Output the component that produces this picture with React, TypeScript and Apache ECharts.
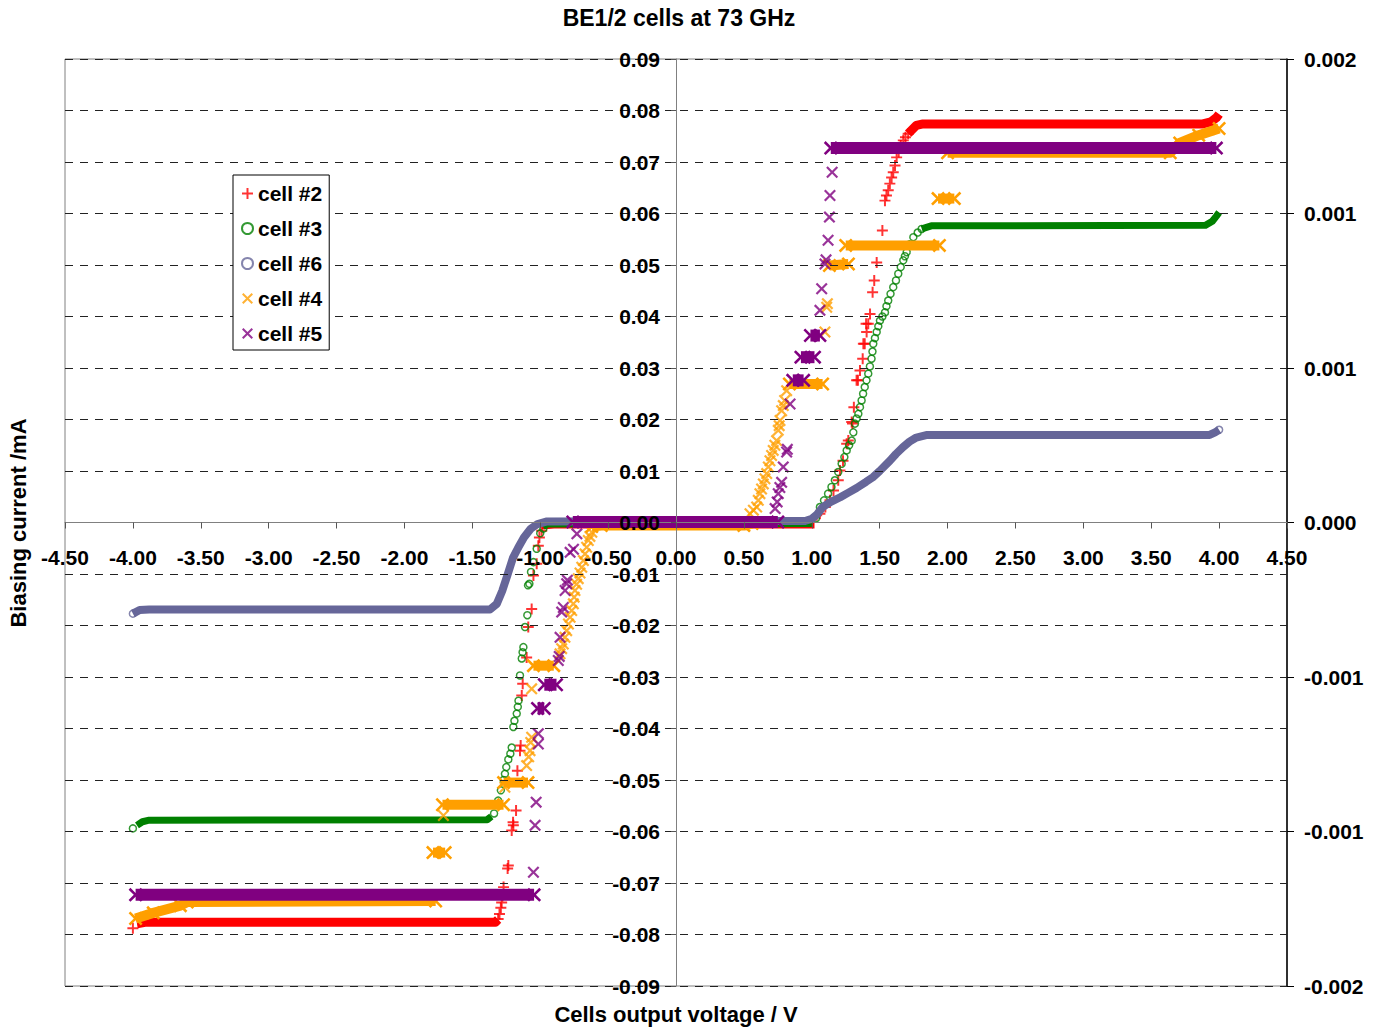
import React, { useEffect, useRef } from 'react';
import * as echarts from 'echarts';

const TITLE = 'BE1/2 cells at 73 GHz';
const X_NAME = 'Cells output voltage / V';
const Y_NAME = 'Biasing current /mA';
const NAMES = ['cell #2', 'cell #3', 'cell #6', 'cell #4', 'cell #5'];
const COLORS = ['#FF0000', '#008000', '#666699', '#FF9F00', '#800080'];
const RIGHT_TICKS = ['-0.002', '-0.001', '-0.001', '0.000', '0.001', '0.001', '0.002'];

// dense runs of markers (appear as solid bands)
const cell2Bands = [
  [[-3.97, -0.0779], [-3.9, -0.0776], [-1.33, -0.0776], [-1.31, -0.0771]],
  [[-0.99, -0.0005], [-0.9, -0.0003], [1.02, -0.0003]],
  [[1.71, 0.0755], [1.77, 0.0771], [1.82, 0.0774], [3.88, 0.0774], [3.94, 0.0778], [3.98, 0.0786], [4.0, 0.0793]],
];
const cell2Points = [
  [-4.0, -0.0788], [-1.31, -0.077], [-1.3, -0.076], [-1.29, -0.0748], [-1.284, -0.0738], [-1.278, -0.0725],
  [-1.27, -0.0708], [-1.24, -0.0672], [-1.235, -0.0666], [-1.21, -0.0598], [-1.198, -0.0588], [-1.2, -0.0582],
  [-1.178, -0.0559], [-1.168, -0.0482], [-1.149, -0.0443], [-1.144, -0.0433], [-1.136, -0.0336], [-1.129, -0.0313],
  [-1.1, -0.0262], [-1.088, -0.0203], [-1.063, -0.0168], [-1.05, -0.0103], [-1.026, -0.008], [-1.014, -0.0045],
  [-1.006, -0.0029], [-0.989, -0.0016],
  [1.036, 0.0014], [1.06, 0.0017], [1.1, 0.003], [1.134, 0.0043], [1.16, 0.0062], [1.195, 0.0082], [1.208, 0.0101],
  [1.23, 0.012], [1.257, 0.0153], [1.269, 0.0159], [1.294, 0.0195], [1.3, 0.0192], [1.31, 0.0224], [1.33, 0.0276],
  [1.34, 0.0276], [1.355, 0.0295], [1.375, 0.0318], [1.38, 0.0347], [1.39, 0.0347], [1.4, 0.0386], [1.404, 0.037],
  [1.416, 0.0386], [1.429, 0.0405], [1.448, 0.0447], [1.46, 0.047], [1.478, 0.0505], [1.52, 0.0567], [1.539, 0.0625],
  [1.55, 0.0635], [1.563, 0.0645], [1.575, 0.0658], [1.588, 0.067], [1.6, 0.068], [1.613, 0.0693], [1.625, 0.0709],
  [1.64, 0.072], [1.655, 0.0732], [1.674, 0.0742], [1.69, 0.0748], [1.71, 0.0755],
];

const cell3Bands = [
  [[-3.97, -0.0588], [-3.93, -0.0581], [-3.88, -0.0578], [-1.39, -0.0577], [-1.36, -0.0571]],
  [[-0.98, -0.0008], [-0.95, -0.0003], [1.0, -0.0002]],
  [[1.81, 0.057], [1.88, 0.0576], [3.9, 0.0577], [3.95, 0.0585], [3.98, 0.0595], [4.0, 0.0602]],
];
const cell3Points = [
  [-4.0, -0.0594], [-1.34, -0.0565], [-1.31, -0.054], [-1.29, -0.052], [-1.27, -0.05], [-1.26, -0.0488],
  [-1.25, -0.0475], [-1.235, -0.046], [-1.22, -0.0449], [-1.21, -0.0437], [-1.198, -0.0397], [-1.19, -0.0385],
  [-1.173, -0.0371], [-1.165, -0.0358], [-1.16, -0.0346], [-1.149, -0.0297], [-1.136, -0.0264], [-1.13, -0.0252],
  [-1.124, -0.0242], [-1.112, -0.0203], [-1.095, -0.018], [-1.09, -0.0122], [-1.08, -0.0119], [-1.068, -0.0096],
  [-1.05, -0.0077], [-1.026, -0.0051], [-1.0, -0.0021], [-0.977, -0.0012],
  [1.03, 0.0008], [1.06, 0.003], [1.09, 0.0043], [1.12, 0.0056], [1.145, 0.0069], [1.17, 0.0082], [1.195, 0.0098],
  [1.22, 0.0114], [1.24, 0.0127], [1.257, 0.014], [1.275, 0.015], [1.294, 0.0159], [1.306, 0.0175], [1.318, 0.0192],
  [1.33, 0.0202], [1.343, 0.0211], [1.355, 0.0224], [1.367, 0.0237], [1.378, 0.025], [1.39, 0.0263], [1.403, 0.0276],
  [1.416, 0.0289], [1.428, 0.0303], [1.44, 0.0318], [1.447, 0.0332], [1.453, 0.0347], [1.465, 0.0358], [1.478, 0.037],
  [1.49, 0.0381], [1.502, 0.0392], [1.52, 0.04], [1.539, 0.0408], [1.55, 0.042], [1.563, 0.0431], [1.58, 0.0444],
  [1.6, 0.0457], [1.62, 0.047], [1.637, 0.0483], [1.655, 0.0496], [1.674, 0.0509], [1.686, 0.0517], [1.699, 0.0525],
  [1.72, 0.054], [1.748, 0.0554], [1.78, 0.0563], [1.809, 0.057],
];

const cell6Bands = [
  [[-4.0, -0.0177], [-3.95, -0.017], [-3.88, -0.0169], [-1.37, -0.0169], [-1.32, -0.0158], [-1.28, -0.0133],
   [-1.24, -0.0101], [-1.2, -0.0068], [-1.16, -0.0048], [-1.12, -0.0029], [-1.07, -0.0012], [-1.02, -0.0003],
   [-0.95, 0.0002], [0.95, 0.0003], [1.0, 0.0007], [1.04, 0.0016], [1.08, 0.003], [1.14, 0.004], [1.21, 0.0049],
   [1.27, 0.0058], [1.33, 0.0067], [1.4, 0.0079], [1.45, 0.0088], [1.5, 0.01], [1.576, 0.012], [1.62, 0.0133],
   [1.67, 0.0146], [1.72, 0.0157], [1.77, 0.0165], [1.85, 0.017], [3.93, 0.017], [3.97, 0.0175], [4.0, 0.018]],
];
const cell6Points = [[-4.0, -0.0177], [4.0, 0.018]];

const cell4Bands = [
  [[-3.98, -0.0769], [-3.85, -0.0758], [-3.65, -0.0744], [-3.6, -0.0737], [-1.77, -0.0735]],
  [[-1.79, -0.0641], [-1.7, -0.0641]],
  [[-1.72, -0.0548], [-1.27, -0.0548]],
  [[-1.27, -0.0505], [-1.09, -0.0505]],
  [[-1.05, -0.0278], [-0.9, -0.0278]],
  [[-0.62, -0.0008], [-0.55, -0.0006], [0.5, -0.0006], [0.56, -0.0002]],
  [[0.835, 0.0269], [1.08, 0.0269]],
  [[1.13, 0.0499], [1.27, 0.0502]],
  [[1.25, 0.0538], [1.94, 0.0538]],
  [[1.93, 0.0629], [2.05, 0.0629]],
  [[2.0, 0.0718], [3.64, 0.0718], [3.71, 0.0737], [3.85, 0.0752], [4.0, 0.0765]],
];
const cell4Points = [
  [-1.713, -0.0569], [-1.26, -0.0514], [-1.1, -0.0472], [-1.085, -0.0455], [-1.075, -0.0443], [-1.07, -0.0427],
  [-1.063, -0.0417], [-1.063, -0.0323],
  [-0.854, -0.0255], [-0.842, -0.0245], [-0.83, -0.0236], [-0.818, -0.0223], [-0.805, -0.021], [-0.792, -0.0197],
  [-0.78, -0.0184], [-0.768, -0.0171], [-0.756, -0.0158], [-0.75, -0.0145], [-0.744, -0.0132], [-0.732, -0.012],
  [-0.72, -0.0109], [-0.707, -0.0098], [-0.694, -0.0087], [-0.682, -0.0074], [-0.67, -0.0061], [-0.658, -0.0048],
  [-0.646, -0.0035], [-0.634, -0.0027], [-0.62, -0.0019],
  [0.545, 0.0017], [0.57, 0.0024], [0.594, 0.003], [0.606, 0.0043], [0.618, 0.0056], [0.63, 0.0065], [0.643, 0.0075],
  [0.655, 0.0085], [0.668, 0.0095], [0.68, 0.0108], [0.692, 0.012], [0.704, 0.013], [0.716, 0.014], [0.728, 0.015],
  [0.741, 0.0159], [0.753, 0.0179], [0.76, 0.0188], [0.766, 0.0198], [0.778, 0.0217], [0.79, 0.0227], [0.8, 0.0237],
  [0.815, 0.0256], [1.097, 0.037], [1.11, 0.0418], [1.115, 0.0425],
];

const cell5Bands = [
  [[-3.98, -0.0723], [-1.045, -0.0723]],
  [[-1.02, -0.0361], [-0.97, -0.0361]],
  [[-0.97, -0.0315], [-0.88, -0.0315]],
  [[-0.76, 0.0001], [0.75, 0.0001]],
  [[0.86, 0.0276], [0.94, 0.0276]],
  [[0.92, 0.0321], [1.02, 0.0321]],
  [[0.99, 0.0363], [1.06, 0.0363]],
  [[1.14, 0.0727], [3.98, 0.0727]],
];
const cell5Points = [
  [-1.05, -0.0679], [-1.038, -0.0588], [-1.03, -0.0543], [-1.014, -0.043], [-1.014, -0.041], [-0.867, -0.0268],
  [-0.86, -0.026], [-0.854, -0.0223], [-0.842, -0.0174], [-0.83, -0.0165], [-0.817, -0.0132], [-0.805, -0.0119],
  [-0.8, -0.0112], [-0.78, -0.0058], [-0.755, -0.0052], [-0.73, -0.0022],
  [0.73, 0.0027], [0.745, 0.004], [0.753, 0.0056], [0.765, 0.0068], [0.778, 0.0078], [0.79, 0.0108], [0.815, 0.0137],
  [0.82, 0.0142], [0.84, 0.023], [1.06, 0.0412], [1.073, 0.0454], [1.097, 0.0502], [1.105, 0.051], [1.12, 0.0548],
  [1.13, 0.0593], [1.134, 0.0635], [1.15, 0.068],
];

const PLUS = 'path://M4.1,0H5.9V4.1H10V5.9H5.9V10H4.1V5.9H0V4.1H4.1Z';
const CROSS = 'path://M1.3,0L5,3.7L8.7,0L10,1.3L6.3,5L10,8.7L8.7,10L5,6.3L1.3,10L0,8.7L3.7,5L0,1.3Z';
const FONT = "'Liberation Sans', Arial, Helvetica, sans-serif";

export default function App() {
  const ref = useRef<HTMLDivElement>(null);
  useEffect(() => {
    if (!ref.current) return;
    const chart = echarts.init(ref.current, null, { renderer: 'svg' });
    const cells = [
      { bands: cell2Bands, points: cell2Points, symbol: PLUS, size: 11, width: 9, open: false, endSym: false },
      { bands: cell3Bands, points: cell3Points, symbol: 'circle', size: 7, width: 7, open: true, endSym: false },
      { bands: cell6Bands, points: cell6Points, symbol: 'circle', size: 7, width: 8, open: true, endSym: false },
      { bands: cell4Bands, points: cell4Points, symbol: CROSS, size: 12, width: 10, open: false, endSym: true },
      { bands: cell5Bands, points: cell5Points, symbol: CROSS, size: 12, width: 12, open: false, endSym: true },
    ];
    const itemStyleOf = (c: any, i: number) =>
      c.open
        ? { color: 'rgba(255,255,255,0)', borderColor: COLORS[i], borderWidth: 1.5 }
        : { color: COLORS[i] };
    const scatter = cells.map((c, i) => ({
      type: 'scatter',
      name: NAMES[i],
      data: c.points,
      symbol: c.symbol,
      symbolSize: c.size,
      z: 2 + i,
      silent: true,
      itemStyle: itemStyleOf(c, i),
    }));
    const bands = cells.flatMap((c, i) =>
      c.bands.map((seg) => ({
        type: 'line',
        name: NAMES[i],
        data: seg,
        symbol: c.endSym ? c.symbol : 'none',
        symbolSize: c.size + 2,
        showSymbol: c.endSym,
        z: 2 + i,
        silent: true,
        itemStyle: { color: COLORS[i] },
        lineStyle: { color: COLORS[i], width: c.width, cap: 'butt', join: 'round' },
      }))
    );
    const labelStyle = { color: '#000', fontSize: 21, fontWeight: 'bold', fontFamily: FONT };
    const gridTop = 59;
    const gridH = 927;
    const gridLeft = 65;
    const gridW = 1222;
    chart.setOption({
      animation: false,
      backgroundColor: '#fff',
      grid: { left: gridLeft, width: gridW, top: gridTop, height: gridH, show: true, borderColor: '#808080', borderWidth: 1, backgroundColor: 'transparent' },
      legend: {
        orient: 'vertical',
        left: 233,
        top: 175,
        z: 20,
        selectedMode: false,
        data: NAMES.map((n, i) => ({ name: n, icon: i === 0 ? PLUS : i < 3 ? 'circle' : CROSS })),
        itemWidth: 11,
        itemHeight: 11,
        itemGap: 14,
        padding: [8, 7, 6, 8],
        borderColor: '#000',
        borderWidth: 1,
        backgroundColor: '#fff',
        textStyle: { ...labelStyle, lineHeight: 21 },
      },
      xAxis: {
        type: 'value',
        position: 'bottom',
        offset: -gridH / 2,
        min: -4.5,
        max: 4.5,
        interval: 0.5,
        z: 10,
        axisLine: { onZero: false, lineStyle: { color: '#808080', width: 1 } },
        axisTick: { show: true, length: 6, lineStyle: { color: '#555' } },
        axisLabel: { ...labelStyle, margin: 24, formatter: (v: number) => v.toFixed(2) },
        splitLine: { show: false },
      },
      yAxis: [
        {
          type: 'value',
          position: 'left',
          offset: -gridW / 2,
          min: -0.09,
          max: 0.09,
          interval: 0.01,
          z: 10,
          axisLine: { onZero: false, lineStyle: { color: '#808080', width: 1 } },
          axisTick: { show: true, length: 5, lineStyle: { color: '#555' } },
          axisLabel: {
            ...labelStyle,
            margin: 16,
            formatter: (v: number) => {
              const s = v.toFixed(2);
              return s === '-0.00' ? '0.00' : s;
            },
          },
          splitLine: { show: true, lineStyle: { color: '#222', width: 1, type: [8, 7] } },
        },
        {
          type: 'value',
          position: 'right',
          min: -3,
          max: 3,
          interval: 1,
          axisLine: { show: true, onZero: false, lineStyle: { color: '#000', width: 1.5 } },
          axisTick: { show: true, length: 7, lineStyle: { color: '#000' } },
          axisLabel: { ...labelStyle, margin: 17, formatter: (v: number) => RIGHT_TICKS[Math.round(v) + 3] },
          splitLine: { show: false },
        },
      ],
      graphic: [
        { type: 'text', x: 679, y: 18, style: { text: TITLE, align: 'center', verticalAlign: 'middle', fill: '#000', font: `bold 23px ${FONT}` } },
        { type: 'text', x: 676, y: 1014, style: { text: X_NAME, align: 'center', verticalAlign: 'middle', fill: '#000', font: `bold 22px ${FONT}` } },
        { type: 'text', x: 18, y: 523, rotation: Math.PI / 2, style: { text: Y_NAME, align: 'center', verticalAlign: 'middle', fill: '#000', font: `bold 22px ${FONT}` } },
      ],
      series: [...scatter, ...bands],
    });
    return () => chart.dispose();
  }, []);
  return <div ref={ref} style={{ position: 'fixed', left: 0, top: 0, width: 1381, height: 1030, background: '#fff' }} />;
}
